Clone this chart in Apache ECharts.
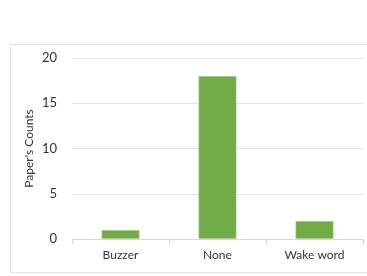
<!DOCTYPE html>
<html>
<head>
<meta charset="utf-8">
<script src="https://cdn.jsdelivr.net/npm/echarts@6/dist/echarts.min.js"></script>
<style>
  html, body { margin: 0; padding: 0; background: #fff; }
  #chart { width: 367px; height: 276px; }
</style>
</head>
<body>
<div id="chart"></div>
<script>
// data
const categories = ["Buzzer", "None", "Wake word"]
const counts = [1, 18, 2]
const yTicks = [0, 5, 10, 15, 20]

const chart = echarts.init(document.getElementById("chart"))

const option = {
  backgroundColor: "#fff",
  animation: false,
  textStyle: { fontFamily: "Lato, 'Open Sans', sans-serif" },
  graphic: [
    {
      type: "rect",
      shape: { x: 10.5, y: 44.5, width: 370, height: 228 },
      style: { fill: "none", stroke: "#e3e3e3", lineWidth: 1 },
      silent: true,
    },
  ],
  grid: {
    left: 72,
    right: 4,
    top: 58,
    bottom: 37,
  },
  xAxis: {
    type: "category",
    data: categories,
    axisLine: { lineStyle: { color: "#d9d9d9" } },
    axisTick: { show: true, alignWithLabel: false, length: 5, lineStyle: { color: "#d9d9d9" } },
    axisLabel: { color: "#333", fontSize: 12, margin: 10 },
  },
  yAxis: {
    type: "value",
    min: yTicks[0],
    max: yTicks[yTicks.length - 1],
    interval: 5,
    name: "Paper's Counts",
    nameLocation: "middle",
    nameGap: 37,
    nameMoveOverlap: false,
    nameTextStyle: { color: "#333", fontSize: 12 },
    axisLine: { show: false },
    axisTick: { show: false },
    axisLabel: { color: "#333", fontSize: 13, margin: 15 },
    splitLine: { lineStyle: { color: "#e3e3e3" } },
  },
  series: [
    {
      type: "bar",
      data: counts,
      barWidth: 38,
      itemStyle: { color: "#70ad47", borderColor: "#c9e0b9", borderWidth: 0.5 },
    },
  ],
}

chart.setOption(option)
</script>
</body>
</html>
